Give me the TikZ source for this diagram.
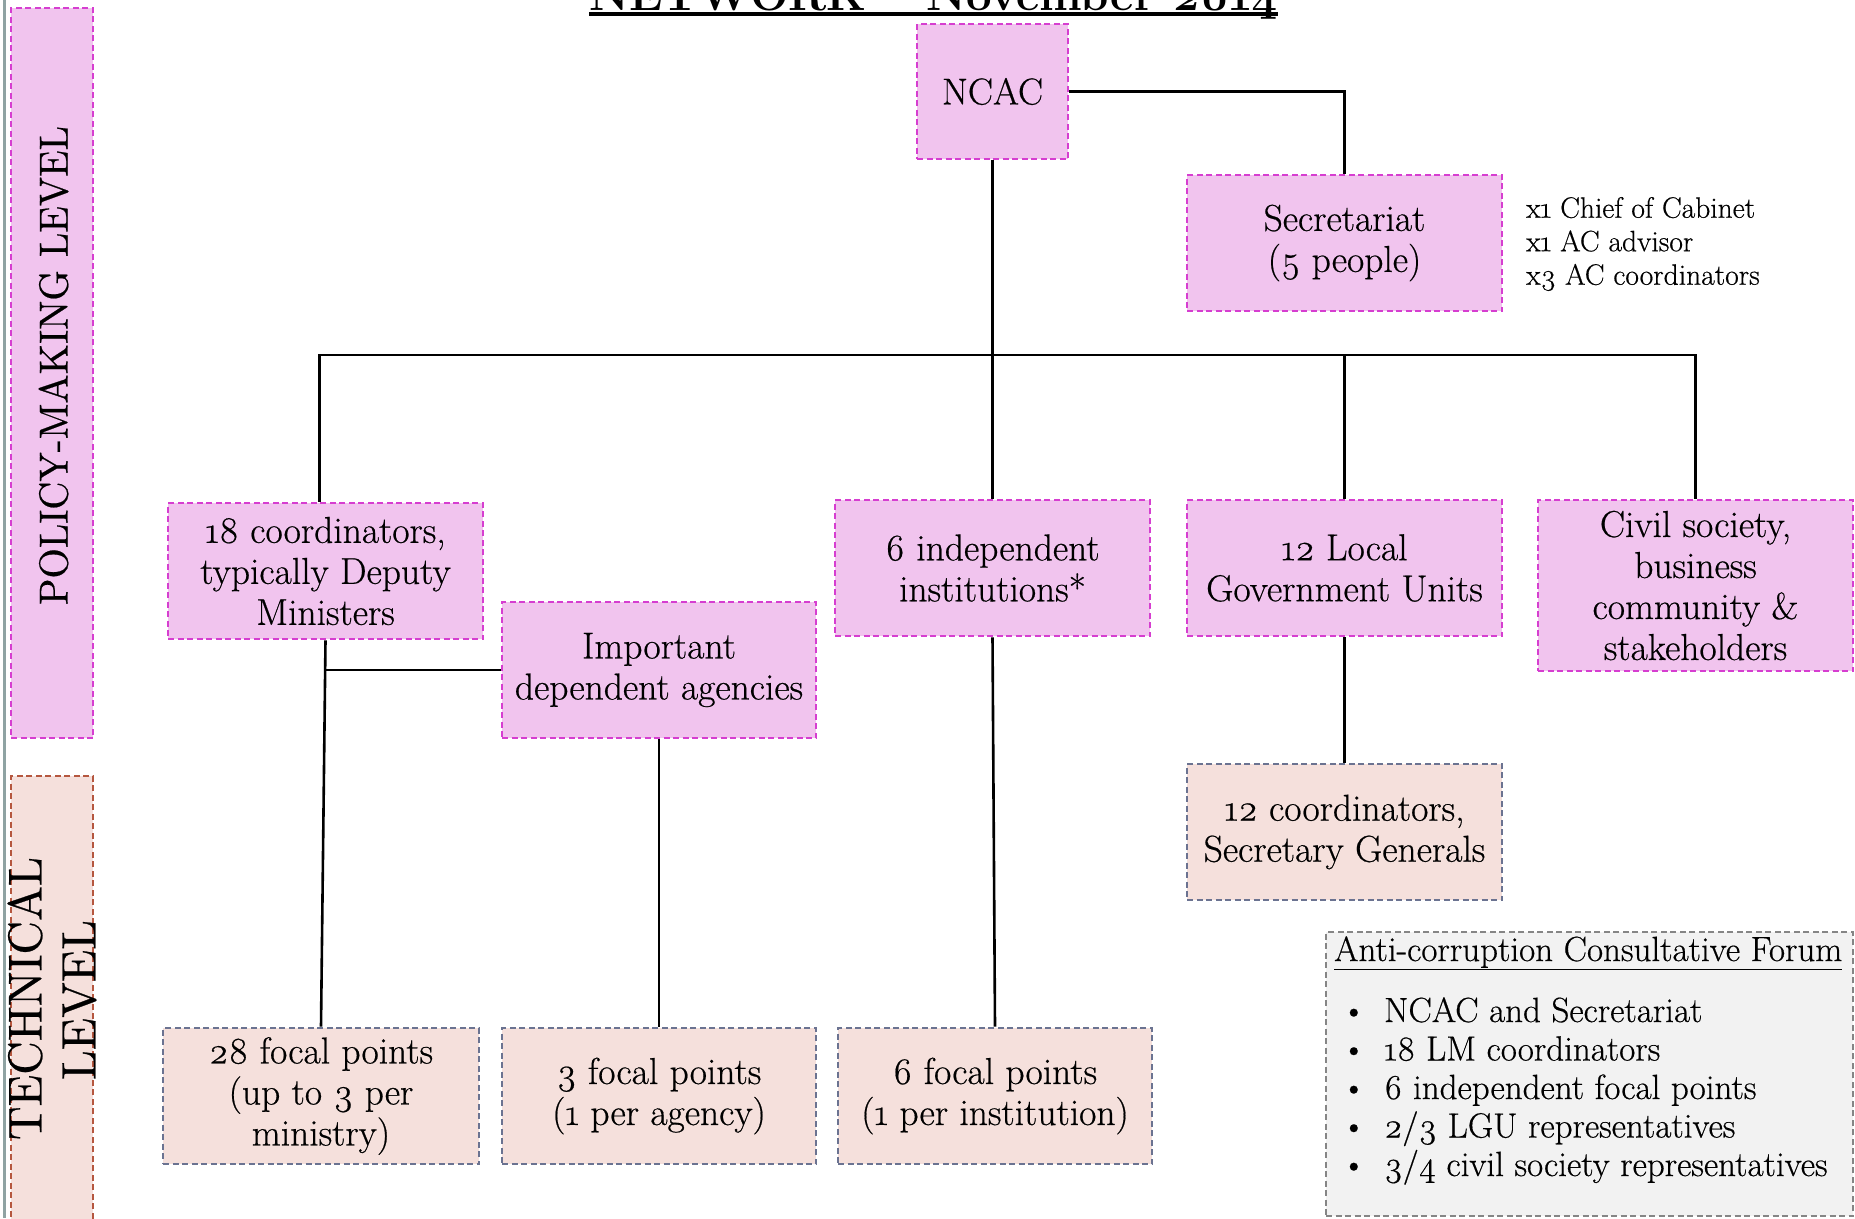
\documentclass[tikz,border=0pt]{standalone}
\usepackage{fontspec}
\setmainfont{Latin Modern Roman}[Numbers=OldStyle, UprightFeatures={FakeBold=0.5}]
\usepackage{graphicx}
\definecolor{pinkfill}{HTML}{F1C4EE}
\definecolor{pinkline}{HTML}{D63ED0}
\definecolor{peachfill}{HTML}{F5E0DC}
\definecolor{slateline}{HTML}{6B7391}
\definecolor{brownline}{HTML}{B5573F}
\definecolor{forumfill}{HTML}{F2F2F2}
\definecolor{forumline}{HTML}{858585}
\definecolor{edgegray}{HTML}{8FA3A3}
\newcommand\bxfont{\fontsize{37.5}{41}\selectfont}
\newcommand\frfont{\fontsize{35}{38}\selectfont}
\newcommand\sdfont{\fontsize{29.5}{33.5}\selectfont}
\begin{document}
\begin{tikzpicture}[x=1pt,y=-1pt,
  polbox/.style={draw=pinkline, fill=pinkfill, line width=2.6pt, dash pattern=on 6pt off 3.5pt, inner sep=0pt, align=center, font=\bxfont},
  techbox/.style={polbox, draw=slateline, fill=peachfill},
  conn/.style={line width=2.6pt, black},
  plain/.style={inner sep=0pt},
]
\useasboundingbox (0,0) rectangle (1855,1218);
\fill[white] (0,0) rectangle (1855,1218);

% left edge line
\draw[edgegray, line width=3pt] (4,0) -- (4,1218);

% title (cut off at top)
\node[plain, anchor=base, font=\fontsize{45.5}{50}\selectfont\bfseries] (title) at (933.5,10) {NETWORK -- November 2014};
\draw[line width=4pt] ([yshift=-4pt]title.base west) -- ([yshift=-4pt]title.base east);

% level bars
\node[polbox, minimum width=82pt, minimum height=730pt] (polbar) at (52,373) {};
\node[plain, rotate=90] (pollabel) at (53.5,365.5) {\resizebox{479pt}{29pt}{POLICY-MAKING LEVEL}};
\node[polbox, draw=brownline, fill=peachfill, minimum width=82pt, minimum height=446pt] (techbar) at (52,999) {};
\node[plain, rotate=90] (techlabel) at (25,998.5) {\resizebox{283pt}{34pt}{TECHNICAL}};
\node[plain, rotate=90] (levlabel) at (79.5,1000) {\resizebox{160pt}{33pt}{LEVEL}};

% policy-making boxes
\node[polbox, minimum width=151pt, minimum height=135pt] (ncac) at (992.5,91.5) {NCAC};
\node[polbox, minimum width=315pt, minimum height=136pt] (sec) at (1344.5,243) {Secretariat\\(5 people)};
\node[plain, anchor=west, align=left, font=\sdfont] (secnote) at (1526,244) {x1 Chief of Cabinet\\x1 AC advisor\\x3 AC coordinators};

\node[polbox, minimum width=315pt, minimum height=136pt] (coord18) at (325.5,571) {18 coordinators,\\typically Deputy\\Ministers};
\node[polbox, minimum width=314pt, minimum height=136pt] (imp) at (659,670) {Important\\dependent agencies};
\node[polbox, minimum width=315pt, minimum height=136pt] (indep) at (992.5,568) {6 independent\\institutions*};
\node[polbox, minimum width=315pt, minimum height=136pt] (lgu) at (1344.5,568) {12 Local\\Government Units};
\node[polbox, minimum width=315pt, minimum height=171pt] (civil) at (1695.5,585.5) {Civil society,\\business\\community \&\\stakeholders};

% technical boxes
\node[techbox, minimum width=315pt, minimum height=136pt] (coordSG) at (1344.5,832) {12 coordinators,\\Secretary Generals};
\node[techbox, minimum width=316pt, minimum height=136pt] (fp28) at (321,1096) {28 focal points\\(up to 3 per\\ministry)};
\node[techbox, minimum width=314pt, minimum height=136pt] (fp3) at (659,1096) {3 focal points\\(1 per agency)};
\node[techbox, minimum width=314pt, minimum height=136pt] (fp6) at (995,1096) {6 focal points\\(1 per institution)};

% forum box
\node[draw=forumline, fill=forumfill, line width=2.6pt, dash pattern=on 6pt off 3.5pt, inner sep=0pt, minimum width=527pt, minimum height=284pt] (forum) at (1589.5,1074) {};
\node[plain, anchor=base west, font=\frfont] (forumtitle) at (1334,961) {\underline{Anti-corruption Consultative Forum}};
\node[plain, anchor=base west, font=\frfont] (b1) at (1341,1022) {\makebox[43pt][l]{\textbullet}NCAC and Secretariat};
\node[plain, anchor=base west, font=\frfont] (b2) at (1341,1060.5) {\makebox[43pt][l]{\textbullet}18 LM coordinators};
\node[plain, anchor=base west, font=\frfont] (b3) at (1341,1099) {\makebox[43pt][l]{\textbullet}6 independent focal points};
\node[plain, anchor=base west, font=\frfont] (b4) at (1341,1137.5) {\makebox[43pt][l]{\textbullet}2/3 LGU representatives};
\node[plain, anchor=base west, font=\frfont] (b5) at (1341,1176) {\makebox[43pt][l]{\textbullet}3/4 civil society representatives};

% connectors
\coordinate (bus) at (0,355);
\draw[conn] (ncac.east) -| (sec.north);
\draw[conn] (ncac.south) -- (indep.north);
\draw[conn] ([xshift=-6pt]coord18.north) |- (bus -| civil.north) -- (civil.north);
\draw[conn] (lgu.north) -- (lgu.north |- bus);
\draw[conn] (coord18.south) -- (fp28.north);
\draw[conn] (imp.west) -- (imp.west -| coord18.south);
\draw[conn] (imp.south) -- (fp3.north);
\draw[conn] (indep.south) -- (fp6.north);
\draw[conn] (lgu.south) -- (coordSG.north);
\end{tikzpicture}
\end{document}
